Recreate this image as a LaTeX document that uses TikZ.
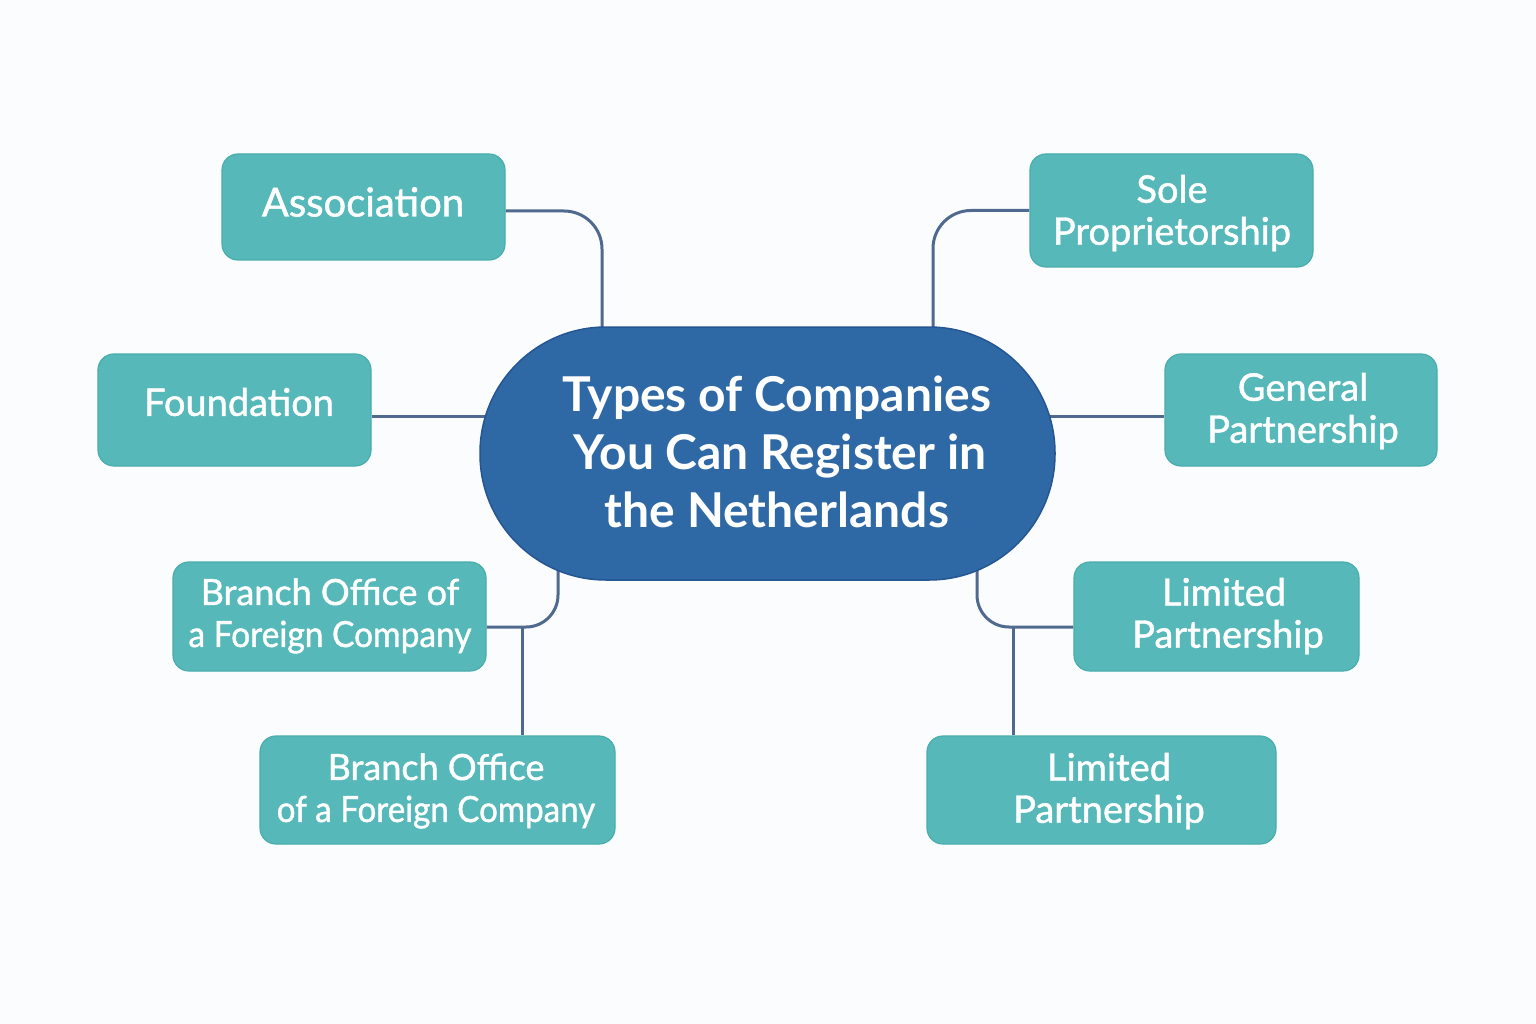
\documentclass[tikz,border=0pt]{standalone}
\usepackage{fontspec}
\setmainfont{Lato}
\newfontfamily\boxfont{Lato}[FakeBold=1.2]
\usetikzlibrary{backgrounds}
\definecolor{bgc}{HTML}{FBFCFD}
\definecolor{teal1}{HTML}{57B8B9}
\definecolor{teal2}{HTML}{49ACAD}
\definecolor{hubc}{HTML}{2F69A5}
\definecolor{hubb}{HTML}{245694}
\definecolor{linec}{HTML}{4F6A8E}
\tikzset{
  leaf/.style={draw=teal2, line width=1.2pt, fill=teal1, rounded corners=16pt, inner sep=0pt},
  ltext/.style={text=white, align=center, inner sep=0pt, font=\boxfont\fontsize{38}{42}\selectfont},
  hubnode/.style={draw=hubb, line width=1.5pt, fill=hubc, rounded corners=126pt, inner sep=0pt,
    minimum width=575pt, minimum height=253pt},
  conn/.style={draw=linec, line width=3pt, rounded corners=38pt}
}
\begin{document}
\begin{tikzpicture}[x=1pt,y=-1pt]
\useasboundingbox (0,0) rectangle (1536,1024);
\node[hubnode] (hub) at (767.5,453.5) {};
\node[text=white, align=center, font=\fontsize{48}{58}\selectfont\bfseries] (hubtext) at (777,452) {Types of Companies\\ \hspace*{6pt}You Can Register in\\ the Netherlands};
\node[leaf, minimum width=283pt, minimum height=106pt] (assoc) at (363.5,207) {};
\node[ltext, font=\boxfont\fontsize{40}{42}\selectfont] (assoct) at (363,202) {Association};
\node[leaf, minimum width=283pt, minimum height=113pt] (sole) at (1171.5,210.5) {};
\node[ltext] (solet) at (1172,213) {Sole\\Proprietorship};
\node[leaf, minimum width=273pt, minimum height=112pt] (found) at (234.5,410) {};
\node[ltext] (foundt) at (239,402) {Foundation};
\node[leaf, minimum width=272pt, minimum height=112pt] (gen) at (1301,410) {};
\node[ltext] (gent) at (1303,411) {General\\Partnership};
\node[leaf, minimum width=313pt, minimum height=109pt] (brA) at (329.5,616.5) {};
\node[ltext, font=\boxfont\fontsize{36}{42}\selectfont] (brAt) at (330,616) {Branch Office of\\\scalebox{0.93}[1]{a Foreign Company}};
\node[leaf, minimum width=285pt, minimum height=109pt] (limA) at (1216.5,616.5) {};
\node[ltext] (limAt) at (1224,616) {Limited\\\hspace*{8pt}Partnership};
\node[leaf, minimum width=355pt, minimum height=108pt] (brB) at (437.5,790) {};
\node[ltext, font=\boxfont\fontsize{36}{42}\selectfont] (brBt) at (436,791) {Branch Office\\\scalebox{0.92}[1]{of a Foreign Company}};
\node[leaf, minimum width=349pt, minimum height=108pt] (limB) at (1101.5,790) {};
\node[ltext] (limBt) at (1109,791) {Limited\\Partnership};
\begin{scope}[on background layer]
\fill[bgc] (0,0) rectangle (1536,1024);
\draw[conn] ([yshift=-4pt]assoc.east) -| ([xshift=-165.5pt]hub.center);
\draw[conn] (sole.west) -| ([xshift=165.5pt]hub.center);
\draw[conn] ([yshift=-6pt]found.east) -- ([yshift=-6pt]found.east -| hub.center);
\draw[conn] ([yshift=-6pt]gen.west) -- ([yshift=-6pt]gen.west -| hub.center);
\coordinate (jA) at ([yshift=-10.5pt]brA.east);
\coordinate (jAx) at ([xshift=84.5pt]brB.north);
\draw[conn, rounded corners=32pt] ([xshift=-209.5pt]hub.center) |- (jA);
\draw[conn, rounded corners=0pt] (jAx) -- (jAx |- jA);
\coordinate (jB) at ([yshift=-10.5pt]limA.west);
\coordinate (jBx) at ([xshift=-88.5pt]limB.north);
\draw[conn, rounded corners=32pt] ([xshift=209.5pt]hub.center) |- (jB);
\draw[conn, rounded corners=0pt] (jBx) -- (jBx |- jB);
\end{scope}
\end{tikzpicture}
\end{document}
